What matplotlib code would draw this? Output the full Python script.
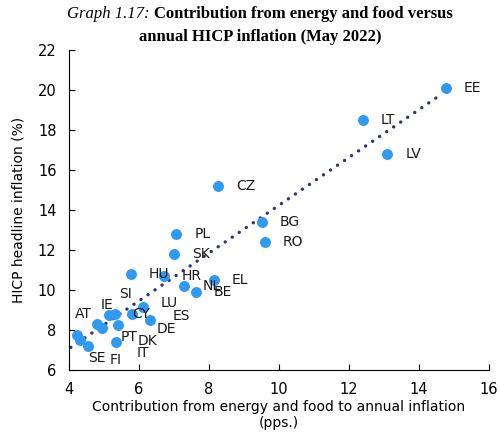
import numpy as np
import matplotlib
matplotlib.use("Agg")
from matplotlib import pyplot as plt

# ---------- data ----------
countries = ["EE", "LT", "LV", "CZ", "BG", "RO", "PL", "SK", "HU", "HR", "NL", "BE", "EL",
             "AT", "SE", "FI", "IT", "IE", "PT", "DK", "SI", "DE", "CY", "LU", "ES"]
contrib = [14.77, 12.40, 13.09, 8.26, 9.51, 9.60, 7.06, 7.00, 5.77, 6.71, 7.29, 7.63, 8.14,
           4.23, 4.31, 4.54, 5.33, 4.80, 4.94, 5.41, 5.13, 5.31, 5.79, 6.12, 6.31]
hicp = [20.1, 18.5, 16.8, 15.2, 13.4, 12.4, 12.8, 11.8, 10.8, 10.7, 10.2, 9.9, 10.5,
        7.75, 7.5, 7.2, 7.4, 8.3, 8.1, 8.25, 8.75, 8.8, 8.8, 9.15, 8.5]

# label positions for the crowded lower-left cluster (data coords)
label_pos = {"AT": (4.41, 8.8), "IE": (5.10, 9.25), "SI": (5.60, 9.8), "CY": (6.07, 8.8),
             "LU": (6.86, 9.35), "ES": (7.21, 8.7), "DE": (6.79, 8.05), "PT": (5.71, 7.65),
             "DK": (6.23, 7.45), "IT": (6.10, 6.85), "SE": (4.81, 6.6), "FI": (5.34, 6.5)}

dot_col = "#2f9af2"
line_col = "#2e3570"

fig = plt.figure(figsize=(5.0, 4.34), dpi=100)
ax = fig.add_axes([0.138, 0.1475, 0.84, 0.7375])

ax.scatter(contrib, hicp, s=62, color=dot_col, zorder=3, linewidths=0)

# linear trend
x = np.array(contrib)
y = np.array(hicp)
k, b = np.polyfit(x, y, 1)
xs = np.array([4.05, 14.65])
ax.plot(xs, k * xs + b, color=line_col, lw=2.4, linestyle=(0, (0.05, 2.5)),
        dash_capstyle="round", zorder=2)

for c, xi, yi in zip(countries, contrib, hicp):
    if c in label_pos:
        ax.text(*label_pos[c], c, ha="center", va="center", fontsize=10, color="#1a1a1a")
    else:
        ax.annotate(c, (xi, yi), xytext=(13, 0), textcoords="offset points",
                    ha="left", va="center", fontsize=10, color="#1a1a1a")

ax.set_xlim(4, 16)
ax.set_ylim(6, 22)
ax.set_xticks(range(4, 17, 2))
ax.set_yticks(range(6, 23, 2))
ax.spines["top"].set_visible(False)
ax.spines["right"].set_visible(False)
for s in ("left", "bottom"):
    ax.spines[s].set_linewidth(0.8)
ax.tick_params(direction="in", length=4, width=0.8, labelsize=10.5, pad=9)
ax.set_xlabel("Contribution from energy and food to annual inflation\n(pps.)", fontsize=10, labelpad=2)
ax.set_ylabel("HICP headline inflation (%)", fontsize=10, labelpad=9)

# two-part title: italic prefix + bold text
fig.canvas.draw()
r = fig.canvas.get_renderer()
t1 = fig.text(0, 0.968, "Graph 1.17: ", fontsize=12, family="Liberation Serif",
              style="italic", va="center")
t2 = fig.text(0, 0.968, "Contribution from energy and food versus", fontsize=12,
              family="Liberation Serif", weight="bold", va="center")
w1 = t1.get_window_extent(r).width / fig.bbox.width
w2 = t2.get_window_extent(r).width / fig.bbox.width
x0 = 0.52 - (w1 + w2) / 2
t1.set_x(x0)
t2.set_x(x0 + w1)
fig.text(0.52, 0.915, "annual HICP inflation (May 2022)", fontsize=12,
         family="Liberation Serif", weight="bold", ha="center", va="center")

plt.savefig("out.png", dpi=100)
